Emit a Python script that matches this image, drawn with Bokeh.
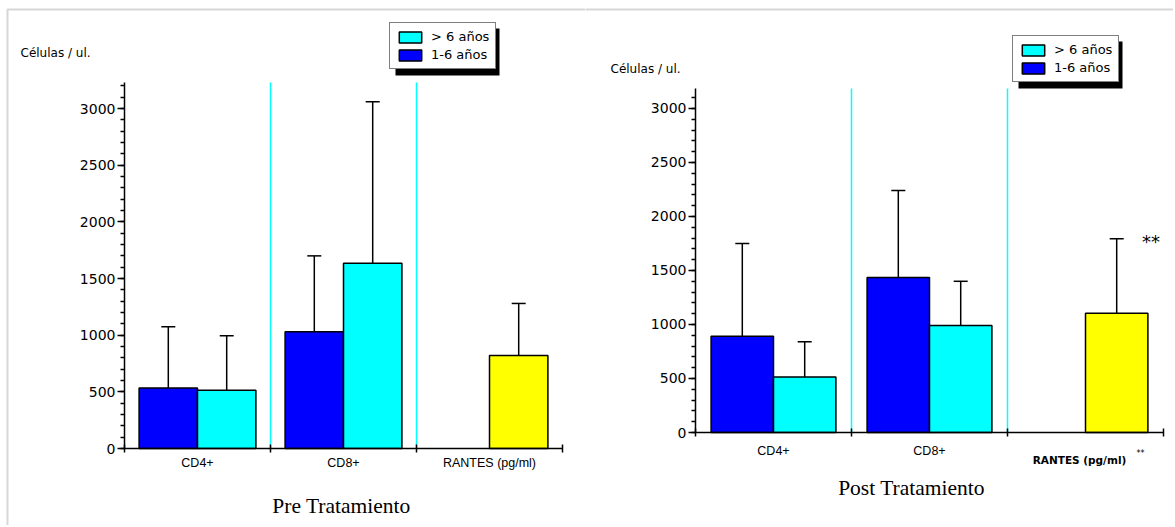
from bokeh.plotting import figure
from bokeh.models import (ColumnDataSource, Label, Legend, LegendItem, BoxAnnotation,
                          FixedTicker, SingleIntervalTicker, Range1d)
from bokeh.layouts import row
from bokeh.embed import file_html
from bokeh.resources import INLINE
from bokeh.core.properties import value

# ---------------- data ----------------
categories = ["CD4+", "CD8+", "RANTES (pg/ml)"]
group_labels = ["> 6 años", "1-6 años"]
y_title = "Células / ul."
panel_titles = ["Pre Tratamiento", "Post Tratamiento"]

pre_young = [535, 1030]          # 1-6 años (blue)
pre_young_err = [1075, 1700]
pre_old = [515, 1635]            # > 6 años (cyan)
pre_old_err = [995, 3060]
pre_rantes = [820]
pre_rantes_err = [1280]

post_young = [890, 1435]
post_young_err = [1750, 2240]
post_old = [515, 990]
post_old_err = [840, 1400]
post_rantes = [1105]
post_rantes_err = [1795]

BLUE = "#0000FF"
CYAN = "#00FFFF"
YELLOW = "#FFFF00"
SANS = "DejaVu Sans"
H = 525


def make_panel(young, young_err, old, old_err, rantes, rantes_err, ymax_axis,
               fig_w, ax_x0, cat_w, ax_y0, ax_top, legend_tl, title, title_pos,
               ytitle_pos, label_standoff, border_left):
    k = (ax_y0 - ax_top) / ymax_axis
    xs = -0.5 - ax_x0 / cat_w
    ys = -(H - ax_y0) / k
    p = figure(width=fig_w, height=H,
               x_range=Range1d(xs, xs + fig_w / cat_w), y_range=Range1d(ys, ys + H / k),
               output_backend="svg", toolbar_location=None,
               min_border_left=0, min_border_top=0, min_border_right=0, min_border_bottom=0)
    p.outline_line_color = None
    p.grid.visible = False
    p.background_fill_color = "white"
    p.border_fill_color = "white"

    # x axis
    xa = p.xaxis[0]
    xa.fixed_location = 0
    xa.bounds = (-0.5, 2.5)
    xa.ticker = FixedTicker(ticks=[0, 1, 2], minor_ticks=[-0.5, 0.5, 1.5, 2.5])
    xa.major_label_overrides = {i: c for i, c in enumerate(categories)}
    xa.major_tick_in = 0
    xa.major_tick_out = 0
    xa.minor_tick_in = 4
    xa.minor_tick_out = 4
    xa.minor_tick_line_width = 1.5
    xa.axis_line_width = 1.5
    xa.axis_line_color = "black"
    xa.minor_tick_line_color = "black"
    xa.major_label_text_font = "Liberation Sans"
    xa.major_label_text_font_size = "12.5px"
    xa.major_label_text_color = "black"
    xa.major_label_standoff = label_standoff

    # y axis
    ya = p.yaxis[0]
    ya.fixed_location = -0.5
    ya.bounds = (0, ymax_axis)
    ya.ticker = SingleIntervalTicker(interval=500, num_minor_ticks=5)
    ya.major_tick_in = 0
    ya.major_tick_out = 7
    ya.minor_tick_in = 0
    ya.minor_tick_out = 4
    ya.axis_line_width = 1.5
    ya.major_tick_line_width = 1.5
    ya.minor_tick_line_width = 1.5
    ya.axis_line_color = "black"
    ya.major_tick_line_color = "black"
    ya.minor_tick_line_color = "black"
    ya.major_label_text_font = SANS
    ya.major_label_text_font_size = "14px"
    ya.major_label_text_color = "black"
    ya.major_label_standoff = 2

    # outer frame of the original picture (top and left edges only)
    p.add_layout(BoxAnnotation(left=border_left, right=100000, top=H - 9, bottom=-100000,
                               left_units="screen", right_units="screen",
                               top_units="screen", bottom_units="screen",
                               fill_color=None, line_color="#777777", line_width=2))

    # cyan separators between the groups
    p.segment(x0=[0.5, 1.5], y0=[0, 0], x1=[0.5, 1.5], y1=[ymax_axis, ymax_axis],
              line_color=CYAN, line_width=1.5)

    n = len(young)
    src_y = ColumnDataSource(dict(x=[i - 0.2 for i in range(n)], top=young, err=young_err))
    src_o = ColumnDataSource(dict(x=[i + 0.2 for i in range(n)], top=old, err=old_err))
    src_r = ColumnDataSource(dict(x=[2 + 0.2], top=rantes, err=rantes_err))

    renderers = {}
    for key, src, col in [("young", src_y, BLUE), ("old", src_o, CYAN), ("r", src_r, YELLOW)]:
        p.segment(x0="x", y0="top", x1="x", y1="err", source=src, line_color="black", line_width=1.5)
        p.scatter(x="x", y="err", source=src, marker="dash", size=14, line_color="black", line_width=1.5)
        renderers[key] = p.vbar(x="x", top="top", bottom=0, width=0.4, source=src,
                                fill_color=col, line_color="black", line_width=1.5)

    # legend with drop shadow
    lx, ly = legend_tl
    lw, lh = 104, 47
    p.add_layout(BoxAnnotation(left=lx + 6, right=lx + lw + 6, top=H - (ly + 6), bottom=H - (ly + lh + 6),
                               left_units="screen", right_units="screen",
                               top_units="screen", bottom_units="screen",
                               fill_color="black", fill_alpha=1, line_color=None))
    legend = Legend(items=[LegendItem(label=group_labels[0], renderers=[renderers["old"]]),
                           LegendItem(label=group_labels[1], renderers=[renderers["young"]])],
                    location=(lx, H - ly - lh),
                    border_line_color="black", border_line_width=1.5,
                    background_fill_color="white", background_fill_alpha=1,
                    padding=6, spacing=3, margin=0,
                    glyph_width=28, glyph_height=14, label_height=15, label_width=56,
                    label_standoff=7,
                    label_text_font=SANS, label_text_font_size="13px", label_text_color="black")
    p.add_layout(legend)

    p.add_layout(Label(x=ytitle_pos[0], y=H - ytitle_pos[1], x_units="screen", y_units="screen",
                       text=y_title, text_font=SANS, text_font_size="12px",
                       text_baseline="middle", text_align="left", text_color="black"))
    p.add_layout(Label(x=title_pos[0], y=H - title_pos[1], x_units="screen", y_units="screen",
                       text=title, text_font="Liberation Serif", text_font_size="21.5px",
                       text_baseline="middle", text_align="center", text_color="black"))
    return p, renderers


W1, W2 = 585, 588

p1, r1 = make_panel(pre_young, pre_young_err, pre_old, pre_old_err, pre_rantes, pre_rantes_err,
                    3230, W1, 124, 146, 448, 82, (389, 22),
                    panel_titles[0], (341, 505), (20, 52), 3, 7)

p2, r2 = make_panel(post_young, post_young_err, post_old, post_old_err, post_rantes, post_rantes_err,
                    3185, W2, 110, 156, 432, 88, (427, 35),
                    panel_titles[1], (326, 487), (25, 68), 7, -100)

# right panel RANTES label with significance marks
p2.xaxis[0].major_label_overrides = {0: categories[0], 1: categories[1], 2: ""}
p2.add_layout(Label(x=2, y=H - 459, x_units="data", y_units="screen", x_offset=-6,
                    text=categories[2], text_font=SANS, text_font_size="10.5px", text_font_style="bold",
                    text_baseline="middle", text_align="center", text_color="black"))
p2.add_layout(Label(x=2, y=H - 453, x_units="data", y_units="screen", x_offset=55,
                    text="**", text_font=SANS, text_font_size="8px",
                    text_baseline="middle", text_align="center", text_color="black"))
p2.text(x=[2 + 0.2 + 0.22], y=[post_rantes_err[0] - 30], text=["**"],
        text_font=value(SANS), text_font_size="18px", text_align="center",
        text_baseline="middle", text_color="black")

layout = row(p1, p2)
open("out.html", "w").write(file_html(layout, INLINE))
